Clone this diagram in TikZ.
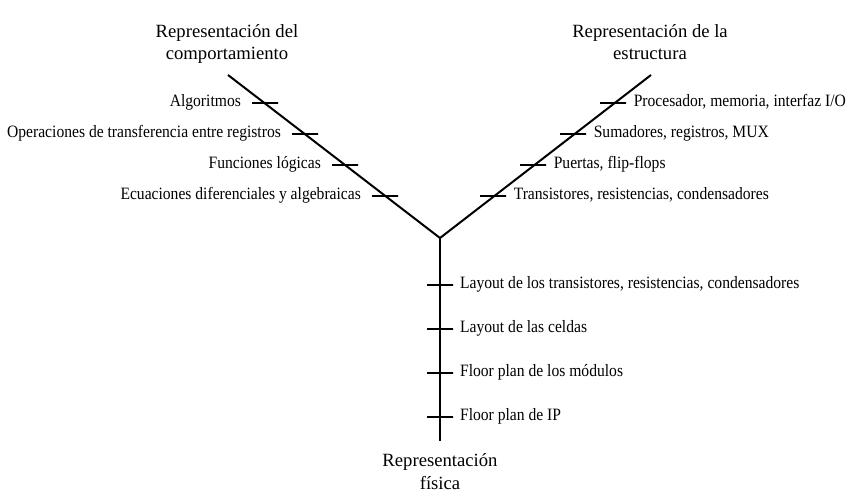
\documentclass[tikz,border=0pt]{standalone}
\usepackage{fontspec}
\setmainfont{Liberation Serif}
\newfontfamily\itemfont[FakeStretch=0.9]{Liberation Serif}
\usetikzlibrary{positioning}
\tikzstyle{Arm}=[line width=1.5pt]
\tikzstyle{Tick}=[draw,line width=1.3pt,inner sep=0pt,minimum width=19.5pt,minimum height=0pt]
\tikzstyle{Item}=[font=\itemfont\fontsize{13}{15}\selectfont,text height=1.6ex,text depth=0.4ex,inner sep=0pt]
\tikzstyle{Title}=[font=\fontsize{14}{16.8}\selectfont,align=center,inner sep=0pt]

\begin{document}
\begin{tikzpicture}[x=0.75pt,y=-0.75pt]
        \useasboundingbox (0,0) rectangle (868,496);
        \coordinate (c) at (440,238);
        \coordinate (l) at (228,75);
        \coordinate (r) at (651,75);
        \coordinate (b) at (440,441);
        \draw[Arm](c)--(l);
        \draw[Arm](c)--(r);
        \draw[Arm](c)--(b);
        % comportamiento
        \node[Title,anchor=base](tb)at(227,60){Representación del\\comportamiento};
        \node[Tick](b1)at(265,103){};
        \node[Tick](b2)at(305,134){};
        \node[Tick](b3)at(345,165){};
        \node[Tick](b4)at(385,196){};
        \node[Item,left=7.5pt of b1]{Algoritmos};
        \node[Item,left=7.5pt of b2]{Operaciones de transferencia entre registros};
        \node[Item,left=7.5pt of b3]{Funciones lógicas};
        \node[Item,left=7.5pt of b4]{Ecuaciones diferenciales y algebraicas};
        % estructura
        \node[Title,anchor=base](ts)at(650,60){Representación de la\\estructura};
        \node[Tick](s1)at(613,103){};
        \node[Tick](s2)at(573,134){};
        \node[Tick](s3)at(533,165){};
        \node[Tick](s4)at(493,196){};
        \node[Item,right=5pt of s1]{Procesador, memoria, interfaz I/O};
        \node[Item,right=5pt of s2]{Sumadores, registros, MUX};
        \node[Item,right=5pt of s3]{Puertas, flip-flops};
        \node[Item,right=5pt of s4]{Transistores, resistencias, condensadores};
        % fisica
        \node[Title,anchor=base](tp)at(440,489){Representación\\física};
        \node[Tick](p1)at(440,285){};
        \node[Tick](p2)at(440,329){};
        \node[Tick](p3)at(440,373){};
        \node[Tick](p4)at(440,417){};
        \node[Item,right=4.5pt of p1]{Layout de los transistores, resistencias, condensadores};
        \node[Item,right=4.5pt of p2]{Layout de las celdas};
        \node[Item,right=4.5pt of p3]{Floor plan de los módulos};
        \node[Item,right=4.5pt of p4]{Floor plan de IP};
    \end{tikzpicture}
\end{document}
